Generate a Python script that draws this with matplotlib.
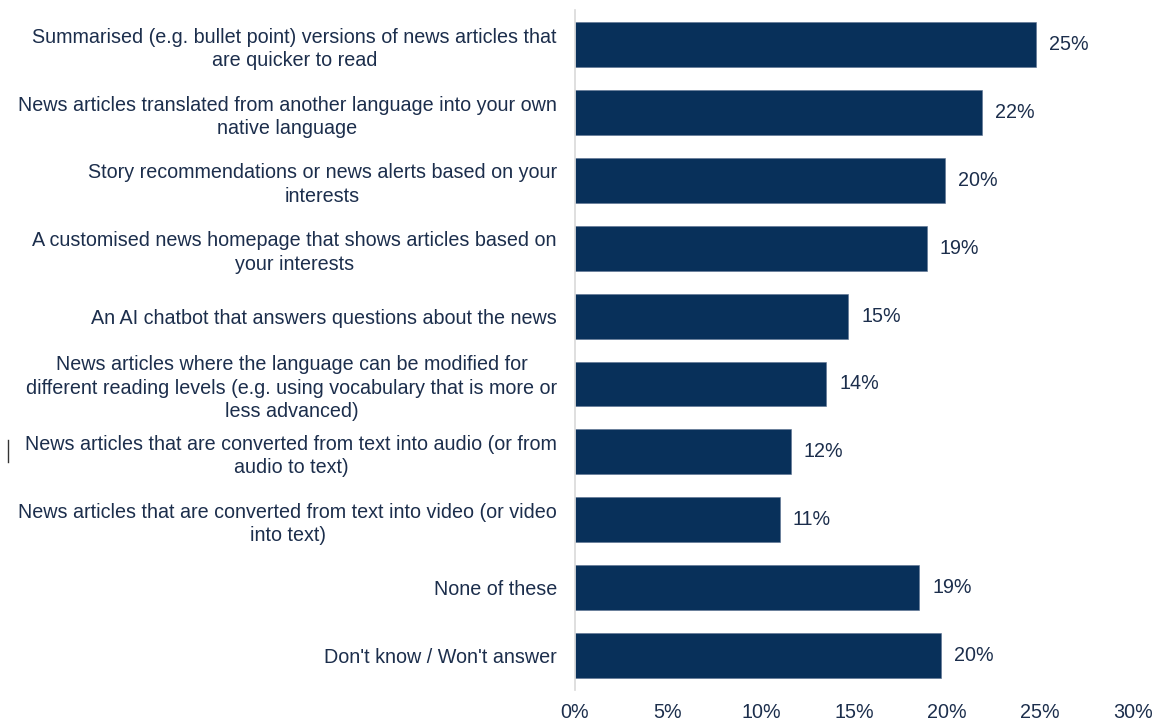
import matplotlib
matplotlib.use("Agg")
import matplotlib.pyplot as plt
from matplotlib.lines import Line2D

plt.rcParams.update({
    "font.family": ["Liberation Sans", "DejaVu Sans"],
    "font.size": 14,
})

CATEGORIES = [
    "Summarised (e.g. bullet point) versions of news articles that\nare quicker to read",
    "News articles translated from another language into your own\nnative language",
    "Story recommendations or news alerts based on your\ninterests",
    "A customised news homepage that shows articles based on\nyour interests",
    "An AI chatbot that answers questions about the news",
    "News articles where the language can be modified for\ndifferent reading levels (e.g. using vocabulary that is more or\nless advanced)",
    "News articles that are converted from text into audio (or from\naudio to text)",
    "News articles that are converted from text into video (or video\ninto text)",
    "None of these",
    "Don't know / Won't answer",
]
VALUES = [24.8, 21.9, 19.9, 18.9, 14.7, 13.5, 11.6, 11.0, 18.5, 19.7]
VALUE_LABELS = ["25%", "22%", "20%", "19%", "15%", "14%", "12%", "11%", "19%", "20%"]
XTICKS = [0, 5, 10, 15, 20, 25, 30]

BAR_COLOR = "#08305a"
TEXT_COLOR = "#1c2e4c"

fig = plt.figure(figsize=(11.53, 7.22), dpi=100)
ax = fig.add_axes([0.4987, 0.0443, 0.484, 0.9417])

y = list(range(len(CATEGORIES)))
bars = ax.barh(y, VALUES, height=0.66, color=BAR_COLOR, edgecolor="#5a7090", linewidth=0.4)

for b, lab in zip(bars, VALUE_LABELS):
    ax.text(b.get_width() + 0.7, b.get_y() + b.get_height() / 2, lab,
            ha="left", va="center", color=TEXT_COLOR, fontsize=14.2)

ax.set_xlim(0, 30)
ax.set_ylim(9.51, -0.51)
ax.set_xticks(XTICKS)
ax.set_xticklabels([f"{t}%" for t in XTICKS], color=TEXT_COLOR, fontsize=14.2)
ax.set_yticks(y)
ax.set_yticklabels(CATEGORIES, color=TEXT_COLOR, fontsize=14.2,
                   multialignment="center", linespacing=1.3)
ax.tick_params(axis="both", length=0)
ax.tick_params(axis="x", pad=9)
ax.tick_params(axis="y", pad=13)

for side in ["top", "right", "bottom"]:
    ax.spines[side].set_visible(False)
ax.spines["left"].set_color("#d9d9d9")
ax.spines["left"].set_linewidth(1.2)

# stray cursor mark in the source image
fig.add_artist(Line2D([8 / 1153, 8 / 1153], [1 - 440 / 722, 1 - 462 / 722],
                      color="#333333", linewidth=1))

fig.savefig("out.png", dpi=100)
